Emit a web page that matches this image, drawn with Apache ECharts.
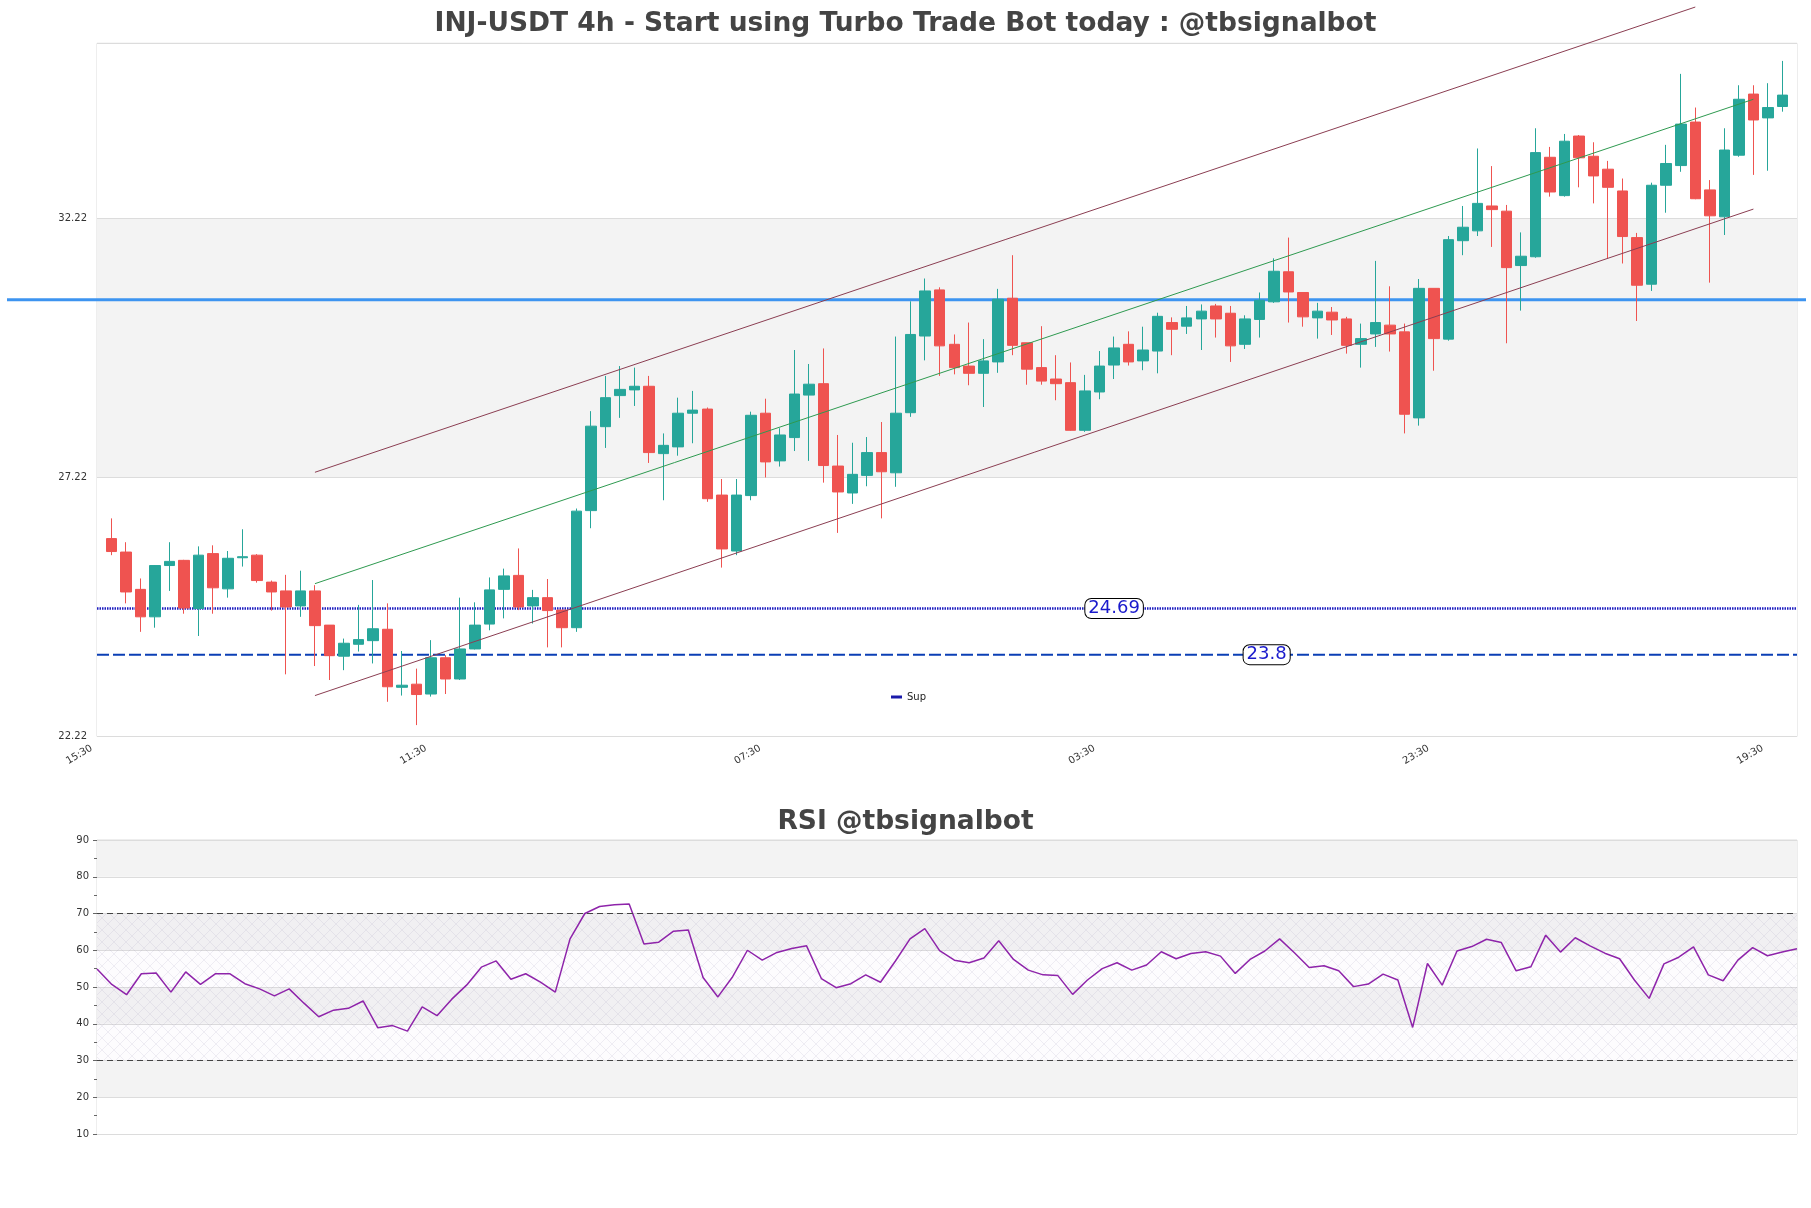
<!DOCTYPE html>
<html><head><meta charset="utf-8">
<script src="https://cdn.jsdelivr.net/npm/echarts@6/dist/echarts.min.js"></script>
<style>html,body{margin:0;padding:0;background:#fff}#c{width:1811px;height:1208px}</style>
</head><body><div id="c"></div>
<script>
const titleMain = 'INJ-USDT 4h - Start using Turbo Trade Bot today : @tbsignalbot';
const titleRsi = 'RSI @tbsignalbot';
const xTickLabels = ['15:30', '11:30', '07:30', '03:30', '23:30', '19:30'];
const yTickLabels = [22.22, 27.22, 32.22];

const opens = [26.04,25.78,25.06,24.53,25.52,25.62,24.69,25.75,25.07,25.67,25.72,25.20,25.03,24.74,25.03,24.37,23.77,24.00,24.07,24.29,
23.17,23.23,23.04,23.74,23.33,23.91,24.39,25.06,25.33,24.74,24.90,24.66,24.32,26.58,28.20,28.80,28.91,28.98,27.68,27.81,
28.46,28.54,26.88,25.80,26.87,28.46,27.54,27.99,28.81,29.03,27.44,26.92,27.26,27.70,27.31,28.47,29.95,30.84,29.79,29.37,
29.23,29.45,30.68,29.82,29.34,29.12,29.05,28.13,28.87,29.39,29.79,29.47,29.66,30.21,30.14,30.28,30.53,30.39,29.79,30.27,
30.61,31.19,30.79,30.30,30.41,30.28,29.79,29.99,30.16,30.03,28.37,30.87,29.89,31.79,31.98,32.46,32.36,31.31,31.48,33.40,
32.66,33.81,33.42,33.17,32.75,31.85,30.95,32.86,33.24,34.08,32.77,32.25,33.44,34.62,34.16,34.38];
const highs = [26.43,25.97,25.27,25.53,25.97,25.63,25.89,25.91,25.80,26.22,25.74,25.23,25.34,25.42,25.14,24.37,24.11,24.76,25.24,24.79,
23.87,23.53,24.08,23.79,24.90,24.81,25.29,25.46,25.85,25.05,25.26,24.66,26.62,28.50,29.18,29.37,29.34,29.18,28.07,28.76,
28.89,28.57,27.19,27.19,28.49,28.74,28.17,29.68,29.41,29.71,28.04,27.89,28.00,28.29,29.94,30.62,31.06,30.89,29.98,30.21,
29.89,30.86,31.51,29.82,30.14,29.58,29.44,29.20,29.66,29.94,30.04,30.13,30.40,30.31,30.53,30.56,30.57,30.53,30.35,30.79,
31.45,31.85,30.79,30.59,30.51,30.32,30.19,31.40,30.91,30.19,31.05,30.87,31.88,32.46,33.57,33.23,32.48,31.95,33.96,33.60,
33.85,33.83,33.69,33.33,32.99,31.94,32.91,33.64,35.01,34.36,32.96,33.96,34.79,34.79,34.83,35.26];
const lows = [25.72,24.79,24.24,24.32,25.03,24.59,24.16,24.59,24.90,25.50,25.19,24.65,23.42,24.53,23.58,23.31,23.50,23.86,23.63,22.89,
23.01,22.44,22.99,23.04,23.31,23.90,24.27,24.50,24.66,24.40,23.94,23.94,24.24,26.24,27.79,28.37,28.60,27.50,26.78,27.64,
27.88,26.75,25.48,25.72,26.78,27.22,27.43,27.73,27.54,27.12,26.15,26.71,27.05,26.43,27.04,28.39,29.48,29.18,29.21,29.00,
28.58,29.24,29.58,29.01,29.01,28.71,28.12,28.10,28.73,29.12,29.38,29.29,29.23,29.58,29.99,29.68,29.92,29.45,29.70,29.92,
30.59,30.21,30.13,29.90,29.97,29.61,29.34,29.74,29.65,28.07,28.22,29.28,29.86,31.51,31.88,31.67,29.81,30.44,31.46,32.64,
32.64,32.82,32.51,31.45,31.35,30.24,30.82,32.33,33.12,32.59,30.98,31.90,33.41,33.06,33.14,34.28];
const closes = [25.79,25.01,24.53,25.52,25.60,24.70,25.72,25.09,25.66,25.69,25.23,25.01,24.72,25.03,24.36,23.78,24.02,24.09,24.30,23.18,
23.21,23.03,23.74,23.33,23.91,24.37,25.05,25.32,24.72,24.90,24.65,24.32,26.57,28.21,28.76,28.92,28.98,27.70,27.84,28.46,
28.52,26.81,25.84,26.88,28.42,27.52,28.04,28.83,29.02,27.45,26.94,27.28,27.70,27.33,28.46,29.98,30.82,29.76,29.34,29.23,
29.47,30.66,29.77,29.31,29.08,29.03,28.13,28.89,29.37,29.72,29.45,29.68,30.33,30.08,30.30,30.43,30.28,29.76,30.28,30.64,
31.20,30.80,30.32,30.43,30.26,29.77,29.90,30.21,29.99,28.44,30.87,29.90,31.81,32.05,32.51,32.39,31.27,31.49,33.49,32.73,
33.71,33.39,33.04,32.82,31.87,30.93,32.86,33.28,34.04,32.60,32.27,33.54,34.52,34.12,34.36,34.60];

const rsi = [54.9,50.7,47.9,53.6,53.8,48.6,54.1,50.7,53.6,53.6,50.9,49.5,47.6,49.5,45.6,41.9,43.7,44.2,46.2,38.9,
39.5,38.0,44.6,42.2,46.7,50.5,55.4,57.1,52.1,53.6,51.3,48.6,63.1,70.0,71.9,72.4,72.6,61.7,62.2,65.2,
65.5,52.6,47.3,52.8,60.0,57.3,59.4,60.5,61.2,52.3,49.8,50.9,53.3,51.3,57.0,63.1,65.9,59.9,57.3,56.6,
57.9,62.6,57.5,54.6,53.3,53.1,48.0,51.9,55.0,56.6,54.6,56.0,59.6,57.7,59.1,59.6,58.4,53.7,57.5,59.8,
63.1,59.3,55.3,55.8,54.4,50.1,50.8,53.5,51.9,39.0,56.4,50.5,59.8,61.0,63.0,62.1,54.4,55.5,64.1,59.5,
63.4,61.2,59.2,57.7,51.9,46.9,56.3,58.1,60.9,53.3,51.7,57.3,60.7,58.5,59.5,60.4];
const rsiBands = [30, 70];

const resistance = 30.65;
const supports = [24.69, 23.8];
const upperChannel = [[14, 27.32], [109, 36.30]];
const midChannel = [[14, 25.17], [113, 34.52]];
const lowerChannel = [[14, 23.01], [113, 32.40]];

const N = opens.length;
const cats = [];
for (let k = 0; k < N + 2; k++) cats.push(String(k));
const candleRows = opens.map((o, i) => [i + 1, o, closes[i], lows[i], highs[i]]);
const rsiCats = rsi.map((v, i) => String(i));

const pat = document.createElement('canvas');
pat.width = 12; pat.height = 12;
const g = pat.getContext('2d');
g.fillStyle = 'rgba(200,180,215,0.035)';
g.fillRect(0, 0, 12, 12);
g.strokeStyle = 'rgba(160,145,180,0.22)';
g.lineWidth = 0.7;
g.beginPath();
g.moveTo(0, 0); g.lineTo(12, 12);
g.moveTo(12, 0); g.lineTo(0, 12);
g.stroke();

const FONT = 'DejaVu Sans';
const yMin = 22.22, yMax = 35.6;
const labelBox = {show: true, position: 'inside', backgroundColor: '#ffffff', borderColor: '#000', borderWidth: 1,
  borderRadius: 6, padding: [1, 3, 0, 3], color: '#1a1acc', fontSize: 18, fontFamily: FONT};

const chart = echarts.init(document.getElementById('c'), null, {renderer: 'canvas', width: 1811, height: 1208});
chart.setOption({
  animation: false,
  backgroundColor: '#ffffff',
  textStyle: {fontFamily: FONT},
  title: [
    {text: titleMain, left: 'center', top: 11, padding: 0, textStyle: {fontSize: 26.5, fontWeight: 'bold', color: '#444', fontFamily: FONT}},
    {text: titleRsi, left: 'center', top: 809, padding: 0, textStyle: {fontSize: 26.5, fontWeight: 'bold', color: '#444', fontFamily: FONT}}
  ],
  legend: {
    data: [{name: 'Sup', icon: 'rect', itemStyle: {color: '#1a1aaa'}}],
    left: 886, top: 687, itemWidth: 11, itemHeight: 3,
    textStyle: {fontSize: 10, color: '#222', fontFamily: FONT}
  },
  grid: [
    {left: 97, right: 14, top: 43.3, height: 693.2, show: true, borderColor: '#dcdcdc', borderWidth: 1},
    {left: 97, right: 14, top: 840, height: 294, show: true, borderColor: '#dcdcdc', borderWidth: 1},
    {left: 7, right: 5, top: 43.3, height: 693.2}
  ],
  xAxis: [
    {gridIndex: 0, type: 'category', data: cats, boundaryGap: false,
      axisLine: {show: false}, axisTick: {show: false}, splitLine: {show: false},
      axisLabel: {interval: 22, rotate: 30, fontSize: 10, color: '#333', margin: 8, padding: [0, 6, 0, 0],
        formatter: (v, idx) => (idx % 23 === 0 && xTickLabels[idx / 23]) ? xTickLabels[idx / 23] : ''}},
    {gridIndex: 0, type: 'value', min: -1, max: N, show: false},
    {gridIndex: 2, type: 'value', min: 0, max: 1, show: false},
    {gridIndex: 1, type: 'category', data: rsiCats, boundaryGap: false, show: false}
  ],
  yAxis: [
    {gridIndex: 0, type: 'value', min: yMin, max: yMax, interval: 5,
      axisLine: {show: false}, axisTick: {show: false},
      axisLabel: {showMaxLabel: false, fontSize: 10, color: '#333', margin: 10,
        formatter: v => yTickLabels.some(t => Math.abs(t - v) < 1e-6) ? v.toFixed(2) : ''},
      splitLine: {show: true, lineStyle: {color: '#dcdcdc'}},
      splitArea: {show: true, areaStyle: {color: ['#ffffff', '#f3f3f3']}}},
    {gridIndex: 1, type: 'value', min: 10, max: 90, interval: 10,
      axisLine: {show: false},
      axisTick: {show: true, length: 4, lineStyle: {color: '#666'}},
      minorTick: {show: true, splitNumber: 2, length: 3, lineStyle: {color: '#666'}},
      axisLabel: {fontSize: 10, color: '#333', margin: 8},
      splitLine: {show: true, lineStyle: {color: '#dcdcdc'}},
      splitArea: {show: true, areaStyle: {color: ['#ffffff', '#f3f3f3']}}},
    {gridIndex: 2, type: 'value', min: yMin, max: yMax, show: false}
  ],
  series: [
    {type: 'line', xAxisIndex: 2, yAxisIndex: 2, data: [[0, resistance], [1, resistance]],
      symbol: 'none', lineStyle: {color: '#3d94f0', width: 3}, z: 1, silent: true},
    {name: 'Sup', type: 'line', xAxisIndex: 1, yAxisIndex: 0, data: [[-1, supports[0]], [N, supports[0]]],
      symbol: 'none', lineStyle: {color: '#1c1cc0', width: 2.5, type: [1.5, 1]}, z: 1, silent: true,
      markPoint: {symbol: 'circle', symbolSize: 1, itemStyle: {color: 'transparent'},
        label: Object.assign({}, labelBox, {formatter: String(supports[0])}),
        data: [{coord: [69, supports[0]]}]}},
    {name: 'Sup2', type: 'line', xAxisIndex: 1, yAxisIndex: 0, data: [[-1, supports[1]], [N, supports[1]]],
      symbol: 'none', lineStyle: {color: '#0b3fb5', width: 2, type: [12, 4]}, z: 1, silent: true,
      markPoint: {symbol: 'circle', symbolSize: 1, itemStyle: {color: 'transparent'},
        label: Object.assign({}, labelBox, {formatter: String(supports[1])}),
        data: [{coord: [79.5, supports[1]]}]}},
    {type: 'candlestick', xAxisIndex: 0, yAxisIndex: 0, data: candleRows,
      encode: {x: 0, y: [1, 2, 3, 4]}, barWidth: 11, z: 2,
      itemStyle: {color: '#26a69a', color0: '#ef5350', borderColor: '#26a69a', borderColor0: '#ef5350', borderWidth: 1}},
    {type: 'line', xAxisIndex: 1, yAxisIndex: 0, data: upperChannel, clip: false, symbol: 'none',
      lineStyle: {color: '#8b3e52', width: 1}, z: 3, silent: true},
    {type: 'line', xAxisIndex: 1, yAxisIndex: 0, data: midChannel, clip: false, symbol: 'none',
      lineStyle: {color: '#2e9a50', width: 1}, z: 3, silent: true},
    {type: 'line', xAxisIndex: 1, yAxisIndex: 0, data: lowerChannel, clip: false, symbol: 'none',
      lineStyle: {color: '#8b3e52', width: 1}, z: 3, silent: true},
    {type: 'line', xAxisIndex: 3, yAxisIndex: 1, data: rsi, symbol: 'none', z: 3,
      lineStyle: {color: '#8e24aa', width: 1.5},
      markArea: {silent: true, itemStyle: {color: {image: pat, repeat: 'repeat'}},
        data: [[{yAxis: rsiBands[0]}, {yAxis: rsiBands[1]}]]},
      markLine: {silent: true, symbol: 'none', label: {show: false},
        lineStyle: {color: '#444', type: [6, 4], width: 1.2},
        data: [{yAxis: rsiBands[1]}, {yAxis: rsiBands[0]}]}}
  ]
});
</script>
</body></html>
